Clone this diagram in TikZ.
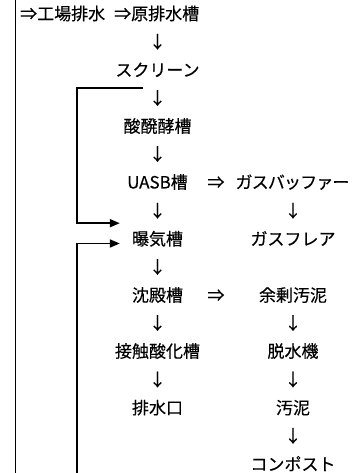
\documentclass[tikz,border=0pt]{standalone}
\usepackage{fontspec}
\setmainfont[FakeBold=0.35]{Noto Sans CJK JP}
\usetikzlibrary{arrows.meta}
\begin{document}
\begin{tikzpicture}[x=1bp,y=-1bp,
  lbl/.style={font=\fontsize{17bp}{20bp}\selectfont, anchor=base, inner sep=0pt},
  conn/.style={line width=1.8bp},
  arr/.style={conn,-{Triangle[length=10bp,width=8bp]}}]
\useasboundingbox (0,0) rectangle (351,473);
% texts
\node[lbl,anchor=base west] (src) at (20,20) {⇒工場排水\hspace{9bp}⇒原排水槽};
\node[lbl] (d1) at (157.5,48.1) {↓};
\node[lbl] (scr) at (157.5,76.3) {スクリーン};
\node[lbl] (d2) at (157.5,104.5) {↓};
\node[lbl] (acid) at (157.5,132.5) {酸醗酵槽};
\node[lbl] (d3) at (157.5,160.5) {↓};
\node[lbl] (uasb) at (157.5,188.5) {UASB槽};
\node[lbl] (imp1) at (216,188.5) {⇒};
\node[lbl] (buf) at (292.5,188.5) {\addfontfeature{LetterSpace=-5}ガスバッファー};
\node[lbl] (d4) at (157.5,217.1) {↓};
\node[lbl] (d4r) at (293,217.1) {↓};
\node[lbl] (aer) at (157.5,245.2) {曝気槽};
\node[lbl] (flare) at (293,245.2) {ガスフレア};
\node[lbl] (d5) at (157.5,273.4) {↓};
\node[lbl] (sed) at (157.5,301.5) {沈殿槽};
\node[lbl] (imp2) at (216,301.5) {⇒};
\node[lbl] (sur) at (293,301.5) {余剰汚泥};
\node[lbl] (d6) at (157.5,329.5) {↓};
\node[lbl] (d6r) at (293,329.5) {↓};
\node[lbl] (cont) at (157.5,357.5) {接触酸化槽};
\node[lbl] (dew) at (293,357.5) {脱水機};
\node[lbl] (d7) at (157.5,386) {↓};
\node[lbl] (d7r) at (293,386) {↓};
\node[lbl] (out) at (157.5,414.1) {排水口};
\node[lbl] (sl) at (293,414.1) {汚泥};
\node[lbl] (d8r) at (293,442.3) {↓};
\node[lbl] (comp) at (293,470.5) {コンポスト};
% connectors
\coordinate (ltop) at (15.5,0);
\coordinate (lbot) at (15.5,473);
\coordinate (fb) at (143,88);
\coordinate (b0) at (77,473);
\coordinate (a1) at ([xshift=-12bp,yshift=22bp]aer.base west);
\coordinate (a2) at ([xshift=-12bp,yshift=1.7bp]aer.base west);
\draw[conn] (ltop) -- (lbot);
\draw[arr] (fb) -- (fb -| b0) |- (a1);
\draw[arr] (b0) |- (a2);
\end{tikzpicture}
\end{document}
